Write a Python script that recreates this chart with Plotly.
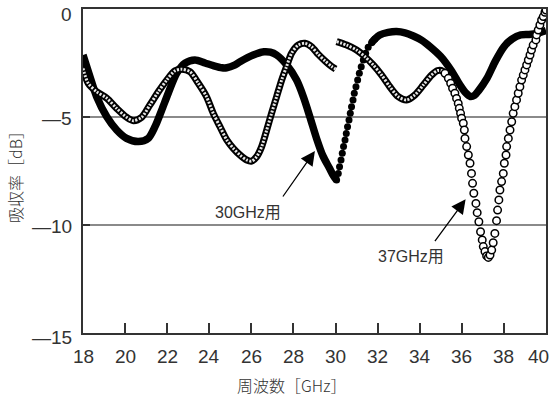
import plotly.graph_objects as go

# ---- data (frequency GHz, absorption dB) ----
# 30GHz-type absorber (filled markers)
f30_a_x = [18.0, 18.33, 18.65, 19.13, 19.6, 20.07, 20.63, 21.1, 21.42, 21.74, 22.05, 22.45, 22.85,
           23.32, 23.8, 24.19, 24.6, 24.83, 25.2, 25.46, 26.09, 26.6, 26.9, 27.2, 27.68, 28.15,
           28.47, 28.78, 29.1, 29.4, 29.7, 29.9, 30.05]
f30_a_y = [-2.13, -3.13, -4.06, -4.99, -5.6, -5.99, -6.14, -5.99, -5.45, -4.68, -3.9, -2.98, -2.51,
           -2.36, -2.5, -2.62, -2.72, -2.72, -2.6, -2.44, -2.13, -1.98, -2.0, -2.13, -2.59, -3.29,
           -4.06, -4.99, -6.0, -6.8, -7.35, -7.72, -7.92]
f30_b_x = [30.05, 30.13, 30.19, 30.26, 30.32, 30.38, 30.45, 30.51, 30.57, 30.64, 30.70, 30.76,
           30.83, 30.89, 30.97, 31.05, 31.13, 31.22, 31.32, 31.43, 31.55, 31.71, 31.87]
f30_b_y = [-7.92, -7.61, -7.30, -6.99, -6.68, -6.37, -6.06, -5.76, -5.45, -5.14, -4.83, -4.52,
           -4.21, -3.9, -3.6, -3.29, -2.98, -2.67, -2.36, -2.05, -1.77, -1.56, -1.39]
f30_c_x = [31.71, 31.87, 32.1, 32.5, 32.9, 33.3, 33.7, 34.1, 34.5, 35.0, 35.5, 35.9, 36.2, 36.4,
           36.6, 36.8, 37.2, 37.6, 38.0, 38.4, 38.8, 39.2, 39.6, 40.0]
f30_c_y = [-1.56, -1.39, -1.2, -1.08, -1.04, -1.1, -1.25, -1.45, -1.75, -2.2, -2.85, -3.5, -3.9,
           -4.05, -4.0, -3.78, -3.2, -2.4, -1.75, -1.38, -1.2, -1.18, -1.12, -1.0]

# 37GHz-type absorber (open markers)
f37_a_x = [18.0, 18.25, 18.65, 19.13, 19.6, 20.07, 20.39, 20.79, 21.18, 21.58, 21.98, 22.37, 22.69,
           23.08, 23.48, 23.87, 24.19, 24.51, 24.83, 25.14, 25.46, 25.78, 26.01, 26.25, 26.49,
           26.73, 26.96, 27.2, 27.44, 27.67, 27.91, 28.23, 28.55, 28.86, 29.18, 29.5, 29.8, 30.0]
f37_a_y = [-2.75, -3.44, -3.83, -4.13, -4.6, -5.01, -5.17, -5.01, -4.44, -3.83, -3.29, -2.86, -2.79,
           -2.9, -3.44, -4.06, -4.83, -5.45, -6.06, -6.45, -6.76, -6.99, -7.04, -6.84, -6.37,
           -5.6, -4.83, -4.06, -3.29, -2.67, -2.05, -1.67, -1.59, -1.75, -2.1, -2.4, -2.65, -2.78]
f37_b_x = [30.05, 30.53, 31.0, 31.4, 31.79, 32.19, 32.58, 32.98, 33.38, 33.77, 34.17, 34.56,
           34.85, 35.1, 35.36]
f37_b_y = [-1.51, -1.67, -1.9, -2.21, -2.59, -3.06, -3.6, -4.06, -4.21, -3.98, -3.52, -3.06,
           -2.85, -2.88, -3.21]
f37_c_x = [35.2, 35.36, 35.47, 35.56, 35.67, 35.75, 35.83, 35.88, 35.94, 35.99, 36.07, 36.12,
           36.15, 36.23, 36.31, 36.39, 36.46, 36.51, 36.57, 36.67, 36.73, 36.81, 36.89, 36.97,
           37.02, 37.10, 37.18, 37.26, 37.34, 37.42, 37.49, 37.57, 37.65, 37.70, 37.76, 37.81,
           37.89, 37.97, 38.02, 38.10, 38.13, 38.21, 38.29, 38.37, 38.44, 38.52, 38.60, 38.68,
           38.76, 38.84, 38.92, 39.0, 39.08, 39.16, 39.24, 39.31, 39.39, 39.52, 39.55, 39.63,
           39.71, 39.79, 39.87, 39.95, 40.0]
f37_c_y = [-2.98, -3.21, -3.44, -3.67, -3.90, -4.14, -4.37, -4.60, -4.83, -5.06, -5.29, -5.60,
           -5.99, -6.37, -6.76, -7.14, -7.61, -8.07, -8.53, -9.0, -9.43, -9.85, -10.31, -10.69,
           -11.0, -11.23, -11.43, -11.5, -11.39, -11.16, -10.82, -10.39, -9.8, -9.31, -8.84, -8.38,
           -7.99, -7.61, -7.14, -6.76, -6.37, -5.99, -5.6, -5.22, -4.83, -4.52, -4.21, -3.9,
           -3.6, -3.29, -3.06, -2.82, -2.59, -2.36, -2.13, -1.9, -1.67, -1.43, -1.2, -0.97,
           -0.74, -0.51, -0.35, -0.15, -0.05]

x_ticks = [18, 20, 22, 24, 26, 28, 30, 32, 34, 36, 38, 40]
x_ticktext = [str(v) for v in x_ticks]
y_ticks = [0, -5, -10, -15]
y_ticktext = ["0", "\u20145", "\u201410", "\u201415"]
label_30 = "30GHz用"
label_37 = "37GHz用"
x_title = "周波数［GHz］"
y_title = "吸収率［dB］"

NUM_FONT = "Liberation Sans, Arial, sans-serif"
JP_FONT = "Liberation Sans, Noto Sans CJK JP, sans-serif"
TXT = "#333333"

W, H = 555, 405
L, R, T, B = 83, 9, 9, 72
pw, ph = W - L - R, H - T - B


def px_x(page_x):
    return (page_x - L) / pw


def px_y(page_y):
    return (H - B - page_y) / ph


fig = go.Figure()

# filled series
for xs, ys in [(f30_a_x, f30_a_y), (f30_c_x, f30_c_y)]:
    fig.add_trace(go.Scatter(x=xs, y=ys, mode="lines",
                             line=dict(color="black", width=7.5, shape="spline", smoothing=0.8),
                             showlegend=False, hoverinfo="skip"))
fig.add_trace(go.Scatter(x=f30_b_x, y=f30_b_y, mode="markers",
                         marker=dict(color="black", size=7, line=dict(width=0)),
                         showlegend=False, hoverinfo="skip"))

# open series (dense parts drawn as a chain-like hollow band)
for xs, ys in [(f37_a_x, f37_a_y), (f37_b_x, f37_b_y)]:
    fig.add_trace(go.Scatter(x=xs, y=ys, mode="lines",
                             line=dict(color="black", width=7, shape="spline", smoothing=0.8),
                             showlegend=False, hoverinfo="skip"))
    fig.add_trace(go.Scatter(x=xs, y=ys, mode="lines",
                             line=dict(color="#e6e6e6", width=3, shape="spline", smoothing=0.8,
                                       dash="2px,1.5px"),
                             showlegend=False, hoverinfo="skip"))
fig.add_trace(go.Scatter(x=f37_c_x, y=f37_c_y, mode="markers",
                         marker=dict(color="white", size=7.5, line=dict(color="black", width=1.5)),
                         showlegend=False, hoverinfo="skip"))

annos = [
    dict(x=29.02, y=-6.57, ax=27.45, ay=-8.75, xref="x", yref="y", axref="x", ayref="y",
         text="", showarrow=True, arrowhead=2, arrowsize=2.2, arrowwidth=1.3, arrowcolor="black"),
    dict(x=36.18, y=-8.81, ax=34.67, ay=-10.82, xref="x", yref="y", axref="x", ayref="y",
         text="", showarrow=True, arrowhead=2, arrowsize=2.2, arrowwidth=1.3, arrowcolor="black"),
    dict(x=px_x(248), y=px_y(212), text=label_30,
         font=dict(family=JP_FONT, size=16, color=TXT)),
    dict(x=px_x(411), y=px_y(256), text=label_37,
         font=dict(family=JP_FONT, size=16, color=TXT)),
    dict(x=px_x(291), y=px_y(385), text=x_title,
         font=dict(family="Noto Sans CJK JP", size=16, color=TXT, weight=300)),
    dict(x=px_x(15), y=px_y(173), text=y_title, textangle=-90,
         font=dict(family="Noto Sans CJK JP", size=16, color=TXT, weight=300)),
]
for a in annos[2:]:
    a.update(xref="paper", yref="paper", showarrow=False, xanchor="center", yanchor="middle")

# x tick labels (the last one is pulled inside the page as in the reference)
for v, t in zip(x_ticks, x_ticktext):
    last = v == x_ticks[-1]
    annos.append(dict(x=v, y=px_y(356), xref="x", yref="paper", text=t, showarrow=False,
                      xanchor="right" if last else "center", yanchor="middle",
                      xshift=5 if last else 0,
                      font=dict(family=NUM_FONT, size=19, color=TXT)))
# y tick labels (end labels nudged inward as in the reference)
y_label_shift = {0: -5, -5: -1, -10: -1, -15: -4}
for v, t in zip(y_ticks, y_ticktext):
    annos.append(dict(x=px_x(73.5), y=v, xref="paper", yref="y", text=t, showarrow=False,
                      xanchor="right", yanchor="middle", yshift=y_label_shift[v],
                      font=dict(family=NUM_FONT, size=19, color=TXT)))

fig.update_layout(
    width=W, height=H,
    margin=dict(l=L, r=R, t=T, b=B, pad=0, autoexpand=False),
    paper_bgcolor="white", plot_bgcolor="white",
    font=dict(family=NUM_FONT, color=TXT),
    annotations=annos,
    hovermode=False,
    xaxis=dict(range=[18, 40], tickvals=x_ticks, showticklabels=False, ticks="inside",
               ticklen=10, tickwidth=1.5, tickcolor="#333", showline=True, linecolor="#333",
               linewidth=1.5, mirror=True, showgrid=False, zeroline=False, automargin=False),
    yaxis=dict(range=[-15, 0], tickvals=y_ticks, showticklabels=False, ticks="inside",
               ticklen=7, tickwidth=1.5, tickcolor="#333",
               showline=True, linecolor="#333", linewidth=1.5, mirror=True,
               showgrid=True, gridcolor="#8a8a8a", gridwidth=2, zeroline=False,
               automargin=False),
)

# remove the default 8px page margin so the 555x405 figure fills the window
fig.write_html("out.html", config={"displayModeBar": False},
               post_script="document.body.style.margin='0px';")
